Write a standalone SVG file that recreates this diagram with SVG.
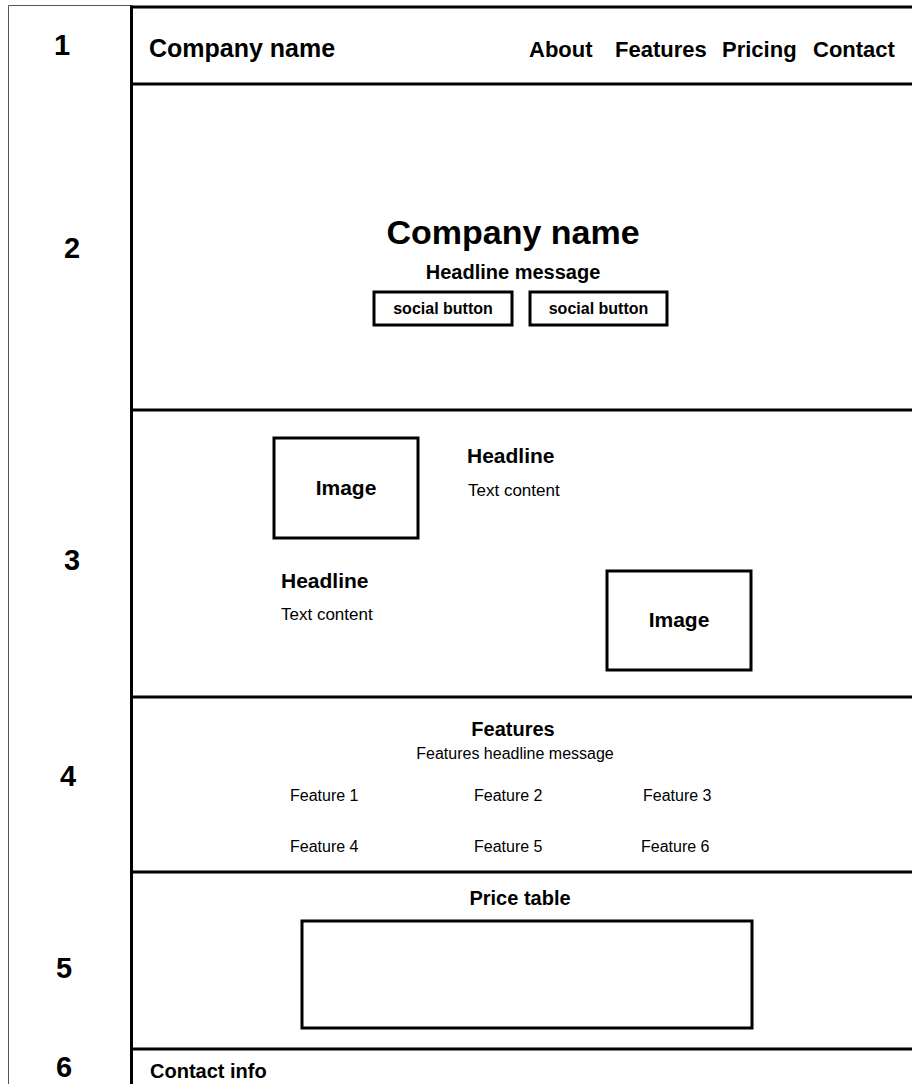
<svg xmlns="http://www.w3.org/2000/svg" width="912" height="1084" viewBox="0 0 912 1084">
<style>
.b{font-family:"Liberation Sans",Arial,sans-serif;font-weight:bold;fill:#000}
.r{font-family:"Liberation Sans",Arial,sans-serif;font-weight:normal;fill:#000}
.num{font-family:"Liberation Sans",Arial,sans-serif;font-weight:bold;font-size:29px;fill:#000}
.box{fill:none;stroke:#000;stroke-width:3}
.div{stroke:#000;stroke-width:3}
.thin{fill:none;stroke:#555;stroke-width:1}
</style>
<rect width="912" height="1084" fill="#fff"/>
<g id="frame">
<path class="thin" d="M8.5,1084 V5.5 H131"/>
<line class="div" x1="131.5" y1="5.5" x2="131.5" y2="1084"/>
<line class="div" x1="130" y1="7" x2="912" y2="7"/>
</g>
<g id="row-numbers">
<text class="num" x="62" y="55" text-anchor="middle">1</text>
<text class="num" x="72" y="258" text-anchor="middle">2</text>
<text class="num" x="72" y="570" text-anchor="middle">3</text>
<text class="num" x="68" y="786" text-anchor="middle">4</text>
<text class="num" x="64" y="978" text-anchor="middle">5</text>
<text class="num" x="64" y="1077" text-anchor="middle">6</text>
</g>
<g id="dividers">
<line class="div" x1="131" y1="84" x2="912" y2="84"/>
<line class="div" x1="131" y1="410" x2="912" y2="410"/>
<line class="div" x1="131" y1="697" x2="912" y2="697"/>
<line class="div" x1="131" y1="872" x2="912" y2="872"/>
<line class="div" x1="131" y1="1049" x2="912" y2="1049"/>
</g>
<g id="section1-header">
<text class="b" x="149" y="57" font-size="25">Company name</text>
<text class="b" x="529" y="57" font-size="22">About</text>
<text class="b" x="615" y="57" font-size="22">Features</text>
<text class="b" x="722" y="57" font-size="22">Pricing</text>
<text class="b" x="813" y="57" font-size="22">Contact</text>
</g>
<g id="section2-hero">
<text class="b" x="513" y="244" font-size="34" text-anchor="middle">Company name</text>
<text class="b" x="513" y="279" font-size="20" text-anchor="middle">Headline message</text>
<g id="social-button-1">
<rect class="box" x="374" y="292" width="138" height="33"/>
<text class="b" x="443" y="314" font-size="16" text-anchor="middle">social button</text>
</g>
<g id="social-button-2">
<rect class="box" x="530" y="292" width="137" height="33"/>
<text class="b" x="598.5" y="314" font-size="16" text-anchor="middle">social button</text>
</g>
</g>
<g id="section3-content">
<g id="image-1">
<rect class="box" x="274" y="438" width="144" height="100"/>
<text class="b" x="346" y="495" font-size="21" text-anchor="middle">Image</text>
</g>
<text class="b" x="467" y="463" font-size="21">Headline</text>
<text class="r" x="468" y="496" font-size="17">Text content</text>
<text class="b" x="281" y="588" font-size="21">Headline</text>
<text class="r" x="281" y="620" font-size="17">Text content</text>
<g id="image-2">
<rect class="box" x="607" y="571" width="144" height="99"/>
<text class="b" x="679" y="627" font-size="21" text-anchor="middle">Image</text>
</g>
</g>
<g id="section4-features">
<text class="b" x="513" y="736" font-size="20" text-anchor="middle">Features</text>
<text class="r" x="515" y="759" font-size="16" text-anchor="middle">Features headline message</text>
<text class="r" x="290" y="801" font-size="16">Feature 1</text>
<text class="r" x="474" y="801" font-size="16">Feature 2</text>
<text class="r" x="643" y="801" font-size="16">Feature 3</text>
<text class="r" x="290" y="852" font-size="16">Feature 4</text>
<text class="r" x="474" y="852" font-size="16">Feature 5</text>
<text class="r" x="641" y="852" font-size="16">Feature 6</text>
</g>
<g id="section5-pricing">
<text class="b" x="520" y="905" font-size="20" text-anchor="middle">Price table</text>
<rect class="box" x="302" y="921" width="450" height="107"/>
</g>
<g id="section6-contact">
<text class="b" x="150" y="1078" font-size="20">Contact info</text>
</g>
</svg>
